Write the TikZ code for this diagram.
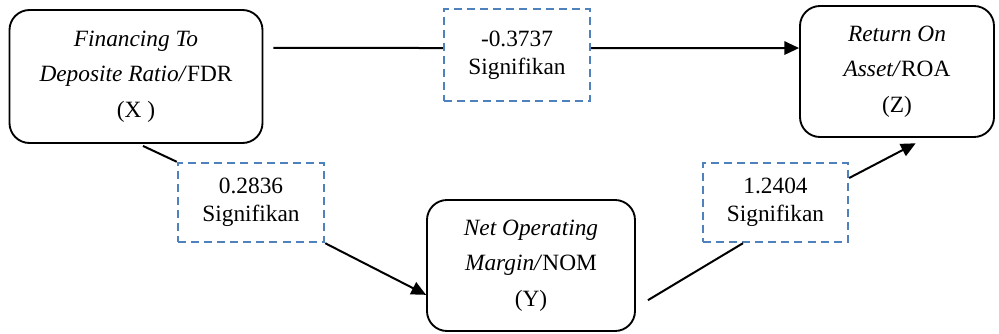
\documentclass[tikz,border=0pt]{standalone}
\usepackage{fontspec}
\setmainfont{Liberation Serif}
\usetikzlibrary{arrows.meta}
\definecolor{dashblue}{RGB}{79,129,189}
\begin{document}
\begin{tikzpicture}[x=0.75pt, y=-0.75pt,
    varbox/.style={draw, line width=1.4pt, rounded corners=15pt, align=center,
        font=\fontsize{17.5}{26.5}\selectfont, inner sep=0pt},
    sigbox/.style={draw=dashblue, line width=1.8pt, dash pattern=on 6pt off 3.8pt,
        align=center, font=\fontsize{17.5}{21}\selectfont, inner sep=0pt},
    link/.style={line width=1.5pt},
    arrow/.style={line width=1.5pt, -{Triangle[length=11pt,width=10pt]}}]
    \useasboundingbox (0,0) rectangle (999,333);
    % variables
    \node[varbox, minimum width=189.75pt, minimum height=99.75pt] (fdr) at (136,76.5)
        {\textit{Financing To}\\\textit{Deposite Ratio/}FDR\\(X\ )};
    \node[varbox, minimum width=145.5pt, minimum height=98.25pt] (roa) at (897,71.5)
        {\textit{Return On}\\\textit{Asset/}ROA\\(Z)};
    \node[varbox, minimum width=156pt, minimum height=98.25pt] (nom) at (531,265.5)
        {\textit{Net Operating}\\\textit{Margin/}NOM\\(Y)};
    % coefficients
    \node[sigbox, minimum width=109.5pt, minimum height=69pt] (sig1) at (517,55)
        {-0.3737\\Signifikan};
    \node[sigbox, minimum width=109.5pt, minimum height=59.25pt] (sig2) at (251,202.5)
        {0.2836\\Signifikan};
    \node[sigbox, minimum width=108.75pt, minimum height=59.25pt] (sig3) at (775.5,202.5)
        {1.2404\\Signifikan};
    % paths
    \draw[link] ([xshift=7.5pt,yshift=21.4pt]fdr.east) -- ([yshift=5.25pt]sig1.west);
    \draw[arrow] ([yshift=5.25pt]sig1.east) -- ([yshift=17.6pt]roa.west);
    \draw[link] ([xshift=5.25pt,yshift=-1.5pt]fdr.south) -- (sig2.north west);
    \draw[arrow] (sig2.south east) -- ([yshift=-22pt]nom.west);
    \draw[link] ([xshift=9pt,yshift=-26pt]nom.east) -- ([xshift=-24.4pt]sig3.south);
    \draw[arrow] ([yshift=18.4pt]sig3.east) -- ([xshift=14pt,yshift=-4pt]roa.south);
\end{tikzpicture}
\end{document}
